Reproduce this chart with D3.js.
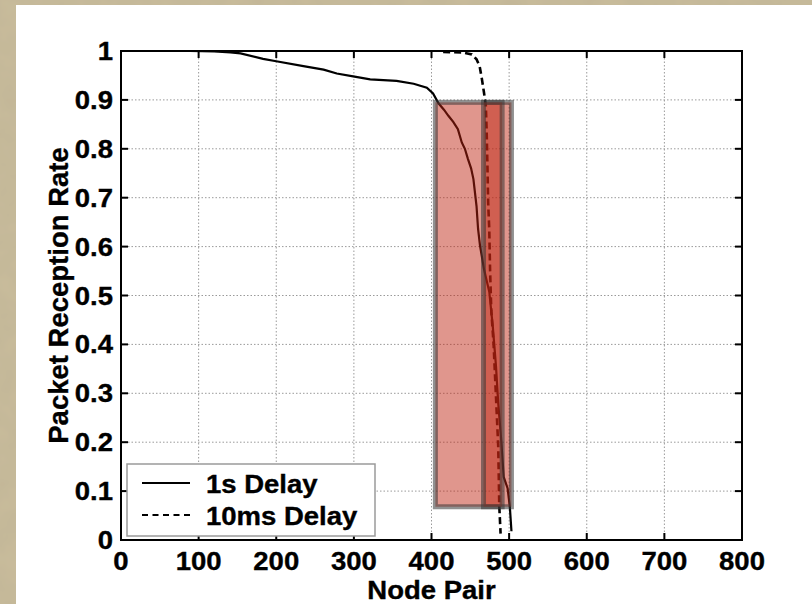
<!DOCTYPE html>
<html lang="en">
<head>
    <meta charset="UTF-8">
    <title>Packet Reception Rate</title>
    <script src="https://d3js.org/d3.v7.min.js"></script>
    <style>
        body {
            margin: 0;
            background-color: #c6b998;
        }
        svg text {
            font-family: "Liberation Sans", Arial, Helvetica, sans-serif;
            font-weight: bold;
            fill: #000;
            stroke: #000;
            stroke-width: 0.35px;
        }
    </style>
</head>
<body>
    <div id="chart"></div>

    <script>
        // 1s Delay curve (node pair index, reception rate)
        const delay1sX = [89, 120, 141, 154, 183, 200, 235, 261, 278, 299, 321, 355, 377, 394, 402, 409, 416, 422, 428, 434, 439, 443, 447, 451, 454, 458, 460, 462.5, 467.6, 474.5, 479, 483, 486, 490, 493, 498, 501, 503];
        const delay1sY = [1.0, 0.999, 0.997, 0.995, 0.984, 0.979, 0.969, 0.962, 0.954, 0.948, 0.942, 0.939, 0.933, 0.925, 0.913, 0.893, 0.880, 0.867, 0.855, 0.84, 0.813, 0.800, 0.779, 0.760, 0.738, 0.683, 0.636, 0.602, 0.554, 0.507, 0.436, 0.357, 0.279, 0.2, 0.129, 0.106, 0.066, 0.018];

        // 10ms Delay curve
        const delay10msX = [415, 440, 452, 458, 462, 465, 467.6, 470, 471, 472, 473, 474.4, 475.5, 477, 480, 482, 484, 486, 487.3, 489];
        const delay10msY = [0.998, 0.997, 0.993, 0.983, 0.969, 0.942, 0.915, 0.888, 0.84, 0.77, 0.69, 0.636, 0.55, 0.47, 0.40, 0.33, 0.26, 0.19, 0.07, 0.013];

        // highlighted regions [x0, x1, y0, y1]
        const regionX0 = [405, 467];
        const regionX1 = [503, 491];
        const regionY0 = [0.068, 0.068];
        const regionY1 = [0.895, 0.895];

        const xTicks = [0, 100, 200, 300, 400, 500, 600, 700, 800];
        const yTicks = [0, 0.1, 0.2, 0.3, 0.4, 0.5, 0.6, 0.7, 0.8, 0.9, 1];
        const legendLabels = ['1s Delay', '10ms Delay'];

        const width = 812, height = 604;
        const plot = { left: 121, right: 742, top: 51, bottom: 540 };
        const stretch = 1.1; // the slide text is a little wide

        const svg = d3.select('#chart').append('svg')
            .attr('width', width)
            .attr('height', height);

        // parchment texture
        const defs = svg.append('defs');
        const f = defs.append('filter').attr('id', 'paper')
            .attr('x', 0).attr('y', 0).attr('width', '100%').attr('height', '100%');
        f.append('feTurbulence').attr('type', 'fractalNoise')
            .attr('baseFrequency', 0.04).attr('numOctaves', 3).attr('seed', 4).attr('result', 'noise');
        f.append('feColorMatrix').attr('type', 'matrix')
            .attr('values', '0 0 0 0 0.45  0 0 0 0 0.40  0 0 0 0 0.28  0 0 0 0.35 0')
            .attr('result', 'tint');
        f.append('feComposite').attr('in', 'tint').attr('in2', 'SourceGraphic').attr('operator', 'over');

        svg.append('rect')
            .attr('width', width).attr('height', height)
            .attr('fill', '#c9bc9b')
            .attr('filter', 'url(#paper)');

        // white slide panel
        svg.append('rect')
            .attr('x', 16).attr('y', 5)
            .attr('width', width - 16).attr('height', height - 5)
            .attr('fill', '#fff');

        const x = d3.scaleLinear().domain([0, 800]).range([plot.left, plot.right]);
        const y = d3.scaleLinear().domain([0, 1]).range([plot.bottom, plot.top]);

        // grid
        const grid = svg.append('g').attr('stroke', '#9a9a9a').attr('stroke-width', 1)
            .attr('stroke-dasharray', '1.5,2');
        grid.selectAll('.vg').data(xTicks.slice(1, -1)).enter().append('line')
            .attr('x1', d => x(d)).attr('x2', d => x(d))
            .attr('y1', plot.top).attr('y2', plot.bottom);
        grid.selectAll('.hg').data(yTicks.slice(1, -1)).enter().append('line')
            .attr('x1', plot.left).attr('x2', plot.right)
            .attr('y1', d => y(d)).attr('y2', d => y(d));

        // curves
        const line = d3.line().x(d => x(d[0])).y(d => y(d[1]));
        const s1 = delay1sX.map((v, i) => [v, delay1sY[i]]);
        const s2 = delay10msX.map((v, i) => [v, delay10msY[i]]);

        svg.append('path').datum(s1)
            .attr('d', line)
            .attr('fill', 'none')
            .attr('stroke', '#000')
            .attr('stroke-width', 2.2);

        svg.append('path').datum(s2)
            .attr('d', line)
            .attr('fill', 'none')
            .attr('stroke', '#000')
            .attr('stroke-width', 2.6)
            .attr('stroke-dasharray', '7,4');

        // highlighted regions, drawn on top of the curves
        const regions = regionX0.map((v, i) => ({ x0: v, x1: regionX1[i], y0: regionY0[i], y1: regionY1[i] }));
        svg.selectAll('.region').data(regions).enter().append('rect')
            .attr('class', 'region')
            .attr('x', d => x(d.x0))
            .attr('y', d => y(d.y1))
            .attr('width', d => x(d.x1) - x(d.x0))
            .attr('height', d => y(d.y0) - y(d.y1))
            .attr('fill', 'rgba(191, 36, 17, 0.48)')
            .attr('stroke', 'rgba(55, 55, 55, 0.55)')
            .attr('stroke-width', 5);

        // axes (matlab style box with inward ticks)
        const axes = svg.append('g').attr('stroke', '#000').attr('stroke-width', 2);
        axes.append('rect')
            .attr('x', plot.left).attr('y', plot.top)
            .attr('width', plot.right - plot.left).attr('height', plot.bottom - plot.top)
            .attr('fill', 'none');
        const tl = 7;
        xTicks.forEach(t => {
            axes.append('line').attr('x1', x(t)).attr('x2', x(t)).attr('y1', plot.bottom).attr('y2', plot.bottom - tl);
            axes.append('line').attr('x1', x(t)).attr('x2', x(t)).attr('y1', plot.top).attr('y2', plot.top + tl);
        });
        yTicks.forEach(t => {
            axes.append('line').attr('x1', plot.left).attr('x2', plot.left + tl).attr('y1', y(t)).attr('y2', y(t));
            axes.append('line').attr('x1', plot.right).attr('x2', plot.right - tl).attr('y1', y(t)).attr('y2', y(t));
        });

        // helper for slightly widened horizontal text
        function wideText(parent, tx, ty, str, anchor, size) {
            return parent.append('text')
                .attr('transform', `translate(${tx},${ty}) scale(${stretch},1)`)
                .attr('text-anchor', anchor)
                .style('font-size', size + 'px')
                .text(str);
        }

        // tick labels
        xTicks.forEach(t => wideText(svg, x(t), plot.bottom + 30, t, 'middle', 25));
        yTicks.forEach(t => wideText(svg, plot.left - 8, y(t) + 9, d3.format('~g')(t), 'end', 25));

        // axis titles
        wideText(svg, (plot.left + plot.right) / 2, 599, 'Node Pair', 'middle', 25);
        svg.append('text')
            .attr('transform', `translate(68, ${(plot.top + plot.bottom) / 2}) rotate(-90)`)
            .attr('text-anchor', 'middle')
            .style('font-size', '27.5px')
            .text('Packet Reception Rate');

        // legend
        const lg = svg.append('g');
        lg.append('rect')
            .attr('x', 127).attr('y', 464)
            .attr('width', 248).attr('height', 72)
            .attr('fill', '#fff')
            .attr('stroke', '#9a9a9a')
            .attr('stroke-width', 1.5);
        legendLabels.forEach((lab, i) => {
            const ly = 483 + i * 32;
            lg.append('line')
                .attr('x1', 142).attr('x2', 190)
                .attr('y1', ly).attr('y2', ly)
                .attr('stroke', '#000')
                .attr('stroke-width', i === 0 ? 2.2 : 1.8)
                .attr('stroke-dasharray', i === 0 ? null : '6,4.5');
            wideText(lg, 206, ly + 10, lab, 'start', 25);
        });
    </script>
</body>
</html>
